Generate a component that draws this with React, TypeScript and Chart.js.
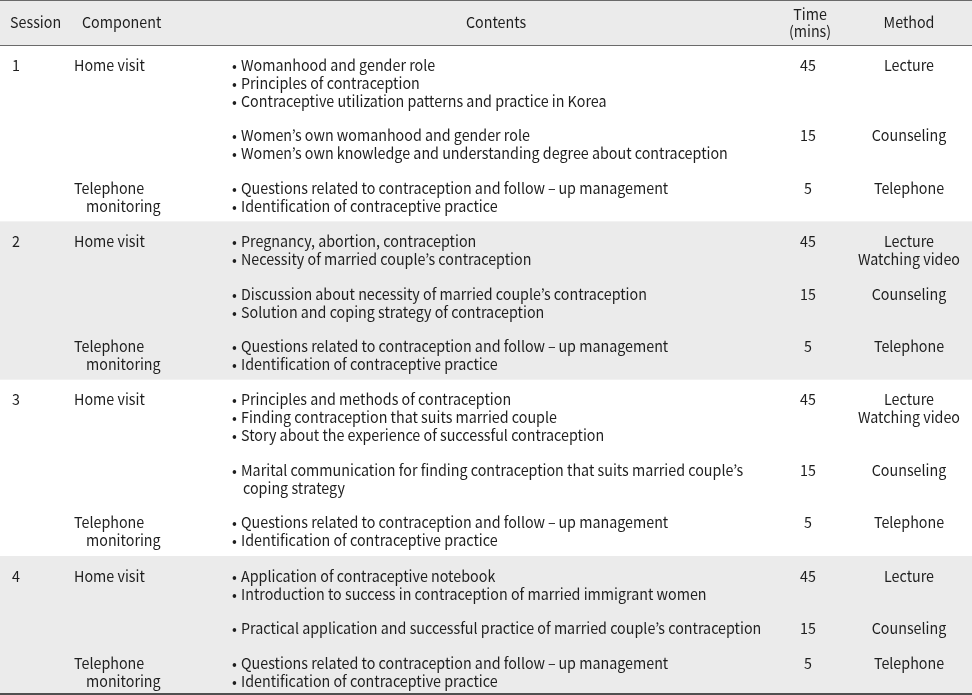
import React, { useEffect, useRef } from "react";
import { Chart, registerables } from "chart.js";

Chart.register(...registerables);

// ---------- data ----------
const headerLabels = ["Session", "Component", "Contents", "Time\n(mins)", "Method"];
const sessionLabels = ["1", "2", "3", "4"];

// each block = one Contents group (row) inside a session
const blockSession = [0, 0, 0, 1, 1, 1, 2, 2, 2, 3, 3, 3];
const blockComponent = [
  "Home visit", "", "Telephone\nmonitoring",
  "Home visit", "", "Telephone\nmonitoring",
  "Home visit", "", "Telephone\nmonitoring",
  "Home visit", "", "Telephone\nmonitoring",
];
// lines starting with ">" are wrapped continuations (no bullet)
const FU = "follow\u2009–\u2009up";
const blockContents: string[][] = [
  ["Womanhood and gender role", "Principles of contraception", "Contraceptive utilization patterns and practice in Korea"],
  ["Women’s own womanhood and gender role", "Women’s own knowledge and understanding degree about contraception"],
  [`Questions related to contraception and ${FU} management`, "Identification of contraceptive practice"],
  ["Pregnancy, abortion, contraception", "Necessity of married couple’s contraception"],
  ["Discussion about necessity of married couple’s contraception", "Solution and coping strategy of contraception"],
  [`Questions related to contraception and ${FU} management`, "Identification of contraceptive practice"],
  ["Principles and methods of contraception", "Finding contraception that suits married couple", "Story about the experience of successful contraception"],
  ["Marital communication for finding contraception that suits married couple’s", ">coping strategy"],
  [`Questions related to contraception and ${FU} management`, "Identification of contraceptive practice"],
  ["Application of contraceptive notebook", "Introduction to success in contraception of married immigrant women"],
  ["Practical application and successful practice of married couple’s contraception"],
  [`Questions related to contraception and ${FU} management`, "Identification of contraceptive practice"],
];
const blockTime = ["45", "15", "5", "45", "15", "5", "45", "15", "5", "45", "15", "5"];
const blockMethod = [
  "Lecture", "Counseling", "Telephone",
  "Lecture\nWatching video", "Counseling", "Telephone",
  "Lecture\nWatching video", "Counseling", "Telephone",
  "Lecture", "Counseling", "Telephone",
];
const shadedSessions = [1, 3];

// ---------- layout / style ----------
const FONT = '15px "Noto Sans CJK KR", "Noto Sans", sans-serif';
const SQUEEZE = 0.953;
const TEXT = "#1e1e1e";
const BAND = "#ebebeb";
const RULE = "#6a6a6a";
const L = {
  width: 972,
  height: 695,
  headerBottom: 45,
  lineH: 18,
  gap: 34.45,
  padTop: 20,
  padBottom: 15.45,
  lastPadBottom: 13,
  colSession: 12,
  colComponent: 74,
  compIndent: 12,
  contentsHeader: 496,
  bullet: 232,
  text: 241,
  contIndent: 243,
  colTime: 808,
  colTimeHeader: 810,
  colMethod: 909,
};

const tablePlugin = {
  id: "tablePlugin",
  beforeDatasetsDraw(chart: any) {
    const { ctx } = chart;
    const xs = chart.scales.x;
    const ys = chart.scales.y;
    const X = (v: number) => xs.getPixelForValue(v);
    const Y = (v: number) => ys.getPixelForValue(v);
    ctx.save();

    const draw = (t: string, x: number, y: number, align: CanvasTextAlign) => {
      ctx.save();
      ctx.translate(X(x), Y(y));
      ctx.scale(SQUEEZE, 1);
      ctx.textAlign = align;
      ctx.fillText(t, 0, 0);
      ctx.restore();
    };

    // compute layout of sessions
    type Seg = { top: number; bottom: number; lines: number[][] };
    const segs: Seg[] = [];
    let cursor = L.headerBottom;
    for (let s = 0; s < sessionLabels.length; s++) {
      const blocks = blockSession.map((b, i) => (b === s ? i : -1)).filter((i) => i >= 0);
      const top = cursor;
      let y = top + L.padTop;
      const lines: number[][] = [];
      blocks.forEach((bi, k) => {
        if (k > 0) y += L.gap;
        const arr: number[] = [];
        blockContents[bi].forEach((_, j) => {
          if (j > 0) y += L.lineH;
          arr.push(y);
        });
        lines.push(arr);
      });
      const last = s === sessionLabels.length - 1;
      const bottom = y + (last ? L.lastPadBottom : L.padBottom);
      segs.push({ top, bottom, lines });
      cursor = bottom;
    }

    // backgrounds
    ctx.fillStyle = BAND;
    ctx.fillRect(X(0), Y(0), X(L.width) - X(0), Y(L.headerBottom) - Y(0));
    shadedSessions.forEach((s) => {
      const sg = segs[s];
      ctx.fillRect(X(0), Y(sg.top), X(L.width) - X(0), Y(sg.bottom) - Y(sg.top));
    });

    // rules
    ctx.strokeStyle = RULE;
    ctx.lineWidth = 1;
    ctx.beginPath();
    ctx.moveTo(X(0), Y(0.5));
    ctx.lineTo(X(L.width), Y(0.5));
    ctx.moveTo(X(0), Y(L.headerBottom) + 0.5);
    ctx.lineTo(X(L.width), Y(L.headerBottom) + 0.5);
    ctx.stroke();
    const endY = segs[segs.length - 1].bottom;
    ctx.strokeStyle = "#505050";
    ctx.lineWidth = 2;
    ctx.beginPath();
    ctx.moveTo(X(0), Y(endY));
    ctx.lineTo(X(L.width), Y(endY));
    ctx.stroke();

    // text
    ctx.font = FONT;
    ctx.fillStyle = TEXT;
    ctx.textBaseline = "middle";

    // header
    draw(headerLabels[0], L.colSession - 2, 22, "left");
    draw(headerLabels[1], L.colComponent + 8, 22, "left");
    draw(headerLabels[2], L.contentsHeader, 22, "center");
    const th = headerLabels[3].split("\n");
    draw(th[0], L.colTimeHeader, 14, "center");
    draw(th[1], L.colTimeHeader, 31, "center");
    draw(headerLabels[4], L.colMethod, 22, "center");

    // body
    sessionLabels.forEach((lab, s) => {
      const sg = segs[s];
      const firstY = sg.lines[0][0];
      draw(lab, L.colSession, firstY, "left");
      const blocks = blockSession.map((b, i) => (b === s ? i : -1)).filter((i) => i >= 0);
      blocks.forEach((bi, k) => {
        const ly = sg.lines[k];
        // component
        const comp = blockComponent[bi].split("\n");
        comp.forEach((c, j) => {
          if (!c) return;
          draw(c, L.colComponent + (j > 0 ? L.compIndent : 0), ly[0] + j * L.lineH, "left");
        });
        // contents
        blockContents[bi].forEach((t, j) => {
          if (t.startsWith(">")) {
            draw(t.slice(1), L.contIndent, ly[j], "left");
          } else {
            draw("•", L.bullet, ly[j], "left");
            draw(t, L.text, ly[j], "left");
          }
        });
        // time
        draw(blockTime[bi], L.colTime, ly[0], "center");
        // method
        blockMethod[bi].split("\n").forEach((m, j) => {
          draw(m, L.colMethod, ly[0] + j * L.lineH, "center");
        });
      });
    });
    ctx.restore();
  },
};

export default function App() {
  const ref = useRef<HTMLCanvasElement | null>(null);
  useEffect(() => {
    document.body.style.margin = "0";
    const canvas = ref.current;
    if (!canvas) return;
    const chart = new Chart(canvas, {
      type: "scatter",
      data: { datasets: [{ data: [] }] },
      options: {
        responsive: false,
        maintainAspectRatio: false,
        animation: false,
        devicePixelRatio: 1,
        layout: { padding: 0 },
        plugins: { legend: { display: false }, tooltip: { enabled: false } },
        scales: {
          x: { type: "linear", display: false, min: 0, max: L.width },
          y: { type: "linear", display: false, min: 0, max: L.height, reverse: true },
        },
      },
      plugins: [tablePlugin],
    } as any);
    return () => chart.destroy();
  }, []);
  return (
    <div style={{ width: L.width, height: L.height, background: "#fff" }}>
      <canvas ref={ref} width={L.width} height={L.height} style={{ display: "block" }} />
    </div>
  );
}
